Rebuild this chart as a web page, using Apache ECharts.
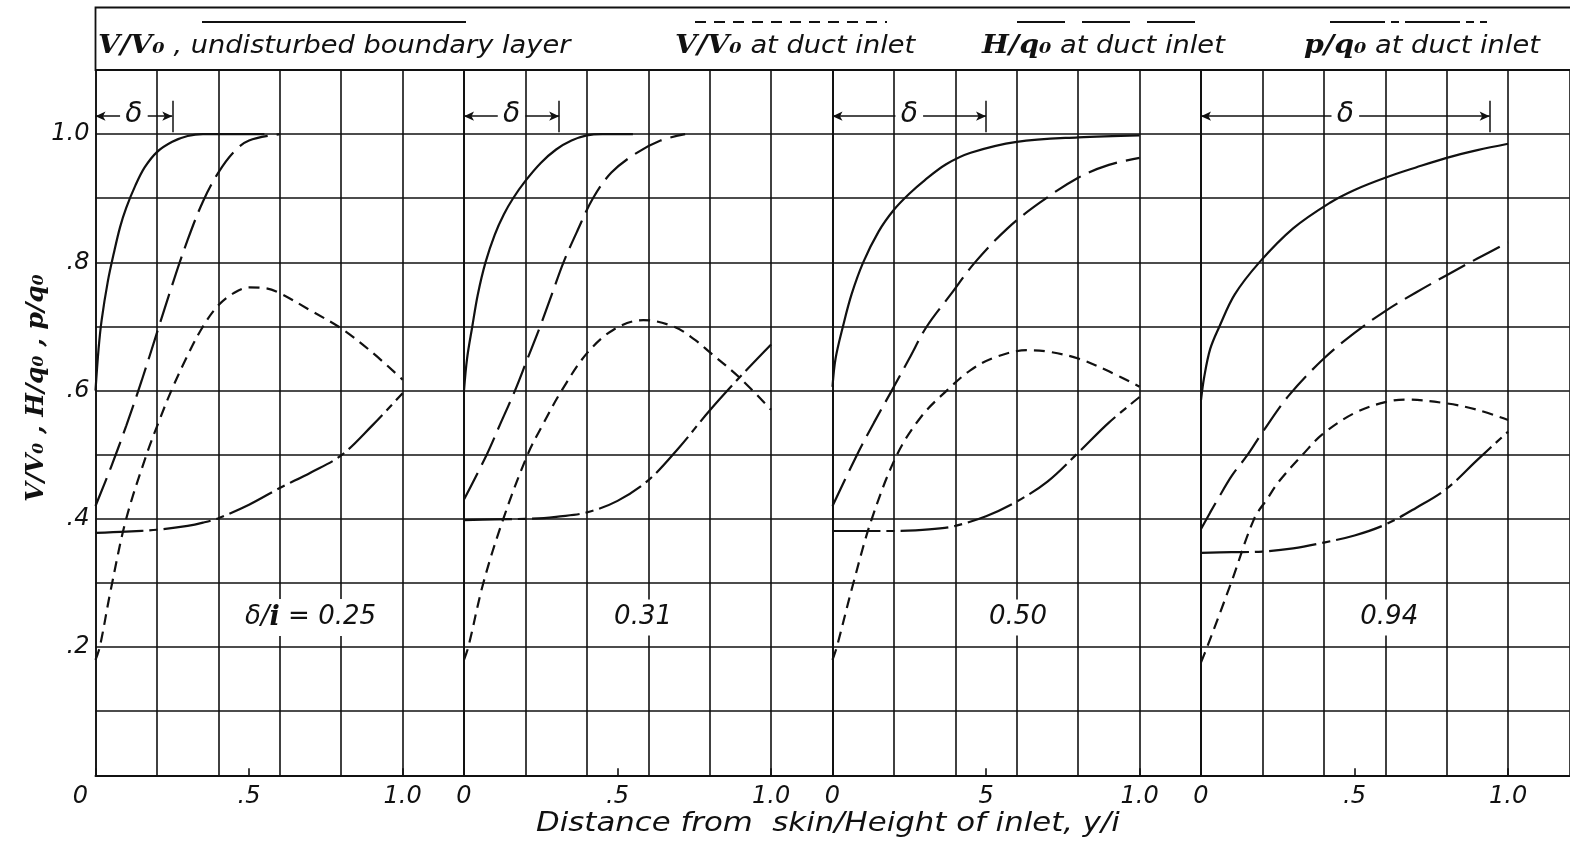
<!DOCTYPE html>
<html><head><meta charset="utf-8">
<script src="https://cdn.jsdelivr.net/npm/echarts@6.0.0/dist/echarts.min.js"></script>
<style>html,body{margin:0;padding:0;background:#fff}#c{width:1570px;height:847px}</style>
</head><body><div id="c"></div>
<script>
// ---------- data ----------
const deltaOverI = [0.25, 0.31, 0.50, 0.94];
const panelLabels = ['δ/i = 0.25', '0.31', '0.50', '0.94'];
const xTickLabels = [['0', '.5', '1.0'], ['0', '.5', '1.0'], ['0', '5', '1.0'], ['0', '.5', '1.0']];
const yTickLabels = ['', '', '.2', '', '.4', '', '.6', '', '.8', '', '1.0', ''];
const seriesNames = ['V/V₀, undisturbed boundary layer', 'V/V₀ at duct inlet', 'H/q₀ at duct inlet', 'p/q₀ at duct inlet'];

// panel 1  (δ/i = 0.25)
const p1_V_undisturbed = [[0,0.6],[0.01,0.665],[0.02,0.71],[0.04,0.77],[0.06,0.815],[0.08,0.855],[0.1,0.885],[0.13,0.92],[0.16,0.948],[0.2,0.972],[0.25,0.988],[0.3,0.997],[0.35,1.0],[0.55,1.0]];
const p1_V_duct = [[0,0.18],[0.014,0.2],[0.05,0.29],[0.1,0.4],[0.166,0.5],[0.205,0.55],[0.247,0.6],[0.3,0.655],[0.35,0.7],[0.4,0.733],[0.45,0.752],[0.5,0.761],[0.55,0.76],[0.6,0.752],[0.7,0.725],[0.8,0.697],[0.9,0.66],[1.0,0.617]];
const p1_H_duct = [[0,0.42],[0.05,0.48],[0.1,0.545],[0.15,0.615],[0.2,0.69],[0.25,0.765],[0.3,0.835],[0.35,0.895],[0.4,0.94],[0.45,0.972],[0.5,0.99],[0.6,1.0]];
const p1_p_duct = [[0,0.378],[0.1,0.38],[0.2,0.383],[0.3,0.389],[0.35,0.394],[0.4,0.401],[0.5,0.422],[0.6,0.448],[0.7,0.472],[0.8,0.499],[0.9,0.545],[1.0,0.596]];

// panel 2  (δ/i = 0.31)
const p2_V_undisturbed = [[0,0.6],[0.01,0.65],[0.027,0.7],[0.045,0.75],[0.07,0.8],[0.1,0.843],[0.13,0.875],[0.16,0.9],[0.2,0.927],[0.25,0.955],[0.3,0.976],[0.35,0.99],[0.4,0.998],[0.45,1.0],[0.55,1.0]];
const p2_V_duct = [[0,0.18],[0.014,0.2],[0.063,0.3],[0.128,0.4],[0.207,0.5],[0.26,0.55],[0.318,0.6],[0.4,0.658],[0.487,0.695],[0.584,0.71],[0.682,0.7],[0.75,0.68],[0.8,0.66],[0.9,0.619],[1.0,0.57]];
const p2_H_duct = [[0,0.43],[0.074,0.5],[0.12,0.55],[0.166,0.6],[0.207,0.65],[0.248,0.7],[0.286,0.75],[0.324,0.8],[0.37,0.85],[0.42,0.9],[0.48,0.94],[0.56,0.97],[0.64,0.99],[0.72,1.0]];
const p2_p_duct = [[0,0.398],[0.1,0.399],[0.2,0.4],[0.26,0.401],[0.3,0.403],[0.4,0.41],[0.5,0.428],[0.6,0.46],[0.7,0.511],[0.8,0.569],[0.9,0.622],[1.0,0.672]];

// panel 3  (δ/i = 0.50)
const p3_V_undisturbed = [[0,0.606],[0.01,0.65],[0.034,0.7],[0.062,0.75],[0.1,0.8],[0.15,0.848],[0.2,0.882],[0.25,0.907],[0.3,0.928],[0.37,0.953],[0.45,0.971],[0.6,0.988],[0.8,0.995],[1.0,0.998]];
const p3_V_duct = [[0,0.18],[0.014,0.2],[0.068,0.3],[0.128,0.4],[0.21,0.5],[0.29,0.56],[0.372,0.6],[0.45,0.632],[0.53,0.652],[0.633,0.663],[0.7,0.661],[0.8,0.65],[0.9,0.63],[1.0,0.606]];
const p3_H_duct = [[0,0.42],[0.08,0.5],[0.135,0.55],[0.193,0.6],[0.25,0.65],[0.307,0.7],[0.385,0.75],[0.464,0.8],[0.57,0.853],[0.675,0.893],[0.8,0.932],[0.9,0.952],[1.0,0.963]];
const p3_p_duct = [[0,0.381],[0.1,0.381],[0.2,0.381],[0.27,0.382],[0.35,0.385],[0.4,0.389],[0.5,0.404],[0.6,0.427],[0.7,0.458],[0.8,0.503],[0.9,0.55],[1.0,0.59]];

// panel 4  (δ/i = 0.94)
const p4_V_undisturbed = [[0,0.585],[0.01,0.62],[0.03,0.665],[0.06,0.7],[0.11,0.75],[0.19,0.8],[0.3,0.853],[0.42,0.893],[0.5,0.913],[0.6,0.932],[0.7,0.948],[0.8,0.963],[0.9,0.975],[1.0,0.985]];
const p4_V_duct = [[0,0.176],[0.02,0.2],[0.098,0.3],[0.173,0.4],[0.217,0.432],[0.255,0.459],[0.331,0.5],[0.396,0.532],[0.5,0.565],[0.6,0.582],[0.667,0.586],[0.8,0.58],[0.9,0.57],[1.0,0.554]];
const p4_H_duct = [[0,0.384],[0.03,0.41],[0.054,0.43],[0.1,0.467],[0.152,0.5],[0.2,0.535],[0.287,0.593],[0.4,0.65],[0.5,0.69],[0.6,0.724],[0.7,0.753],[0.8,0.78],[0.9,0.806],[1.0,0.831]];
const p4_p_duct = [[0,0.347],[0.1,0.348],[0.2,0.349],[0.3,0.354],[0.4,0.363],[0.5,0.374],[0.6,0.391],[0.7,0.417],[0.8,0.447],[0.9,0.492],[1.0,0.536]];

const panels = [
  [p1_V_undisturbed, p1_V_duct, p1_H_duct, p1_p_duct],
  [p2_V_undisturbed, p2_V_duct, p2_H_duct, p2_p_duct],
  [p3_V_undisturbed, p3_V_duct, p3_H_duct, p3_p_duct],
  [p4_V_undisturbed, p4_V_duct, p4_H_duct, p4_p_duct]
];

// ---------- styling / layout ----------
const INK = '#111';
const SANS = "'DejaVu Sans', 'Liberation Sans', sans-serif";
const SERIF = "'DejaVu Serif', 'Liberation Serif', serif";
const dashes = ['solid', [11, 7], [30, 9], [48, 6, 8, 6]];
const legendDashes = [null, [11, 8], [48, 17], [55, 6, 8, 6]];
const GRID_LEFT = 95.5, GRID_W = 368.5, GRID_TOP = 70, GRID_H = 705.3;
const labelPos = [[0.70, 0.246], [0.583, 0.246], [0.604, 0.246], [0.613, 0.246]];
const deltaRowY = 1.028, deltaBar = [1.003, 1.052], deltaGap = 0.045;

const grids = [], xAxes = [], yAxes = [], series = [];
for (let k = 0; k < 4; k++) {
  grids.push({ left: GRID_LEFT + k * GRID_W, top: GRID_TOP, width: GRID_W, height: GRID_H,
    containLabel: false, outerBoundsMode: 'none' });
  xAxes.push({ type: 'value', gridIndex: k, min: 0, max: 1.2, interval: 0.2,
    axisLine: { show: true, lineStyle: { color: INK, width: 2 } },
    axisTick: { show: false }, axisLabel: { show: false },
    splitLine: { show: true, lineStyle: { color: INK, width: 1.6 } } });
  const labs = xTickLabels[k];
  xAxes.push({ type: 'value', gridIndex: k, min: 0, max: 1.2, interval: 0.5, position: 'bottom',
    axisLine: { show: false },
    axisTick: { show: true, inside: true, length: 7, lineStyle: { color: INK, width: 1.6 } },
    splitLine: { show: false },
    axisLabel: { show: true, margin: 9, color: INK, fontFamily: SANS, fontStyle: 'italic', fontSize: 24,
      showMaxLabel: false,
      formatter: function (v) {
        if (Math.abs(v) < 1e-6) return k === 0 ? '{s|' + labs[0] + '}' : labs[0];
        if (Math.abs(v - 0.5) < 1e-6) return labs[1];
        if (Math.abs(v - 1.0) < 1e-6) return labs[2];
        return '';
      },
      rich: { s: { fontFamily: SANS, fontStyle: 'italic', fontSize: 24, color: INK, padding: [0, 30, 0, 0] } } } });
  yAxes.push({ type: 'value', gridIndex: k, min: 0, max: 1.1, interval: 0.1,
    axisLine: { show: true, lineStyle: { color: INK, width: 1.6 } },
    axisTick: { show: false },
    axisLabel: { show: k === 0, margin: 6, color: INK, fontFamily: SANS, fontStyle: 'italic', fontSize: 24,
      formatter: function (v) { return yTickLabels[Math.round(v * 10)] || ''; } },
    splitLine: { show: true, lineStyle: { color: INK, width: 1.6 } } });

  const d = deltaOverI[k];
  for (let s = 0; s < 4; s++) {
    const ser = {
      type: 'line', name: seriesNames[s], xAxisIndex: 2 * k, yAxisIndex: k,
      data: panels[k][s], showSymbol: false, symbol: 'none',
      smooth: 0.35, silent: true, z: 3,
      lineStyle: { color: INK, width: 2.2, type: dashes[s], cap: 'butt' }
    };
    if (s === 0) {
      ser.markLine = { silent: true, animation: false, symbol: 'none',
        lineStyle: { color: INK, width: 1.5, type: 'solid' }, label: { show: false },
        data: [
          [{ coord: [0, deltaRowY], symbol: 'arrow', symbolSize: [7, 10] }, { coord: [d / 2 - deltaGap, deltaRowY], symbol: 'none' }],
          [{ coord: [d / 2 + deltaGap, deltaRowY], symbol: 'none' }, { coord: [d, deltaRowY], symbol: 'arrow', symbolSize: [7, 10] }],
          [{ coord: [d, deltaBar[0]], symbol: 'none' }, { coord: [d, deltaBar[1]], symbol: 'none' }]
        ] };
      ser.markPoint = { silent: true, animation: false, symbol: 'rect', symbolSize: 0,
        data: [
          { coord: [d / 2, deltaRowY + 0.003],
            label: { show: true, position: 'inside', formatter: 'δ', color: INK, fontFamily: SANS, fontStyle: 'italic', fontSize: 28 } },
          { coord: labelPos[k],
            label: { show: true, position: 'inside', color: INK, backgroundColor: '#fff', padding: [5, 8],
              fontFamily: SANS, fontStyle: 'italic', fontSize: 26,
              formatter: k === 0 ? '{a|δ/}{b|i}{a| = 0.25}' : panelLabels[k],
              rich: { a: { fontFamily: SANS, fontStyle: 'italic', fontSize: 26, color: INK },
                      b: { fontFamily: SERIF, fontStyle: 'italic', fontWeight: 'bold', fontSize: 27, color: INK } } } }
        ] };
    }
    series.push(ser);
  }
}

// header (legend box)
const legendTextX = [98, 675, 982, 1304];
const legendLineX = [[202, 466], [695, 887], [1017, 1199], [1330, 1487]];
const legendParts = [['V/V₀', ' , undisturbed boundary layer'], ['V/V₀', ' at duct inlet'], ['H/q₀', ' at duct inlet'], ['p/q₀', ' at duct inlet']];
const graphic = [
  { type: 'rect', shape: { x: GRID_LEFT, y: 7.5, width: 1490, height: GRID_TOP - 7.5 }, silent: true,
    style: { fill: '#fff', stroke: INK, lineWidth: 1.8 }, z: -1 }
];
for (let i = 0; i < 4; i++) {
  const ls = { stroke: INK, lineWidth: 2.2 };
  if (legendDashes[i]) ls.lineDash = legendDashes[i];
  graphic.push({ type: 'line', silent: true, shape: { x1: legendLineX[i][0], y1: 22, x2: legendLineX[i][1], y2: 22 }, style: ls });
  graphic.push({ type: 'text', silent: true, x: legendTextX[i], y: 46, scaleX: 1.09,
    style: { text: '{b|' + legendParts[i][0] + '}{n|' + legendParts[i][1] + '}', textAlign: 'left', textVerticalAlign: 'middle',
      rich: { b: { fontFamily: SERIF, fontStyle: 'italic', fontWeight: 'bold', fontSize: 26, fill: INK },
              n: { fontFamily: SANS, fontStyle: 'italic', fontSize: 25, fill: INK } } } });
}
// axis titles
graphic.push({ type: 'text', silent: true, x: 36, y: 388, rotation: Math.PI / 2,
  style: { text: 'V/V₀ , H/q₀ , p/q₀', textAlign: 'center', textVerticalAlign: 'middle',
    fontFamily: SERIF, fontStyle: 'italic', fontWeight: 'bold', fontSize: 25, fill: INK } });
graphic.push({ type: 'text', silent: true, x: 828, y: 824, scaleX: 1.14,
  style: { text: 'Distance from  skin/Height of inlet, y/i', textAlign: 'center', textVerticalAlign: 'middle',
    fontFamily: SANS, fontStyle: 'italic', fontSize: 27, fill: INK } });

const chart = echarts.init(document.getElementById('c'), null, { renderer: 'canvas' });
chart.setOption({
  backgroundColor: '#fff',
  animation: false,
  grid: grids, xAxis: xAxes, yAxis: yAxes, series: series, graphic: graphic
});
</script></body></html>
